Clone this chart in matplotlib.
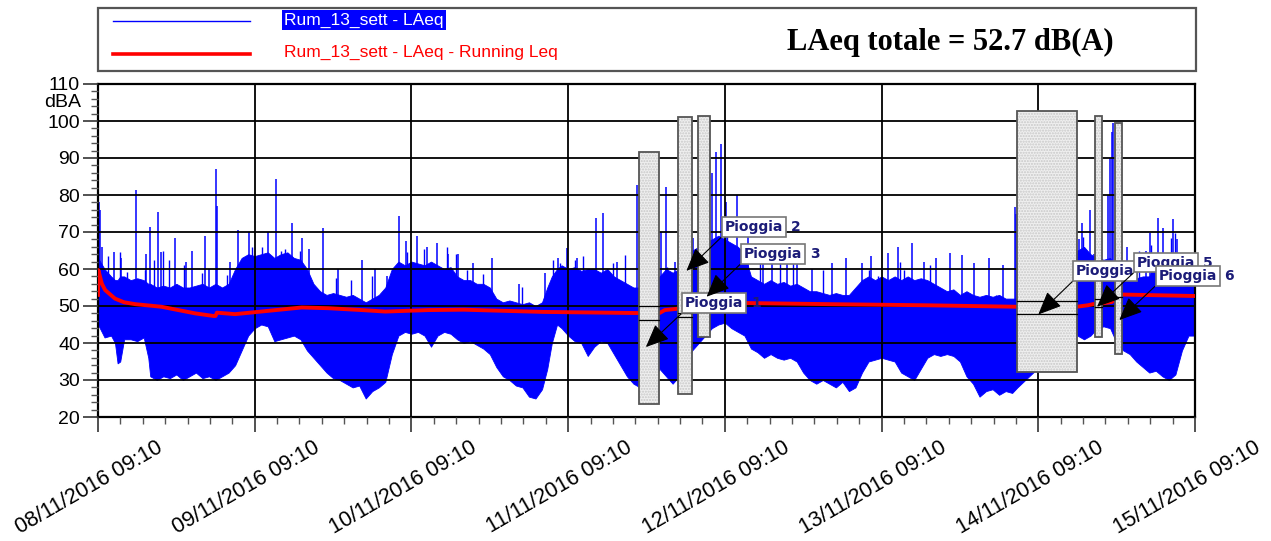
import numpy as np
import matplotlib
matplotlib.use("Agg")
import matplotlib.pyplot as plt
import matplotlib.transforms as mtransforms
from matplotlib.patches import Rectangle
from matplotlib.lines import Line2D
from matplotlib.ticker import MultipleLocator

plt.rcParams['font.family'] = ['Liberation Sans', 'DejaVu Sans']

# time axis: hours since 08/11/2016 09:10
day_labels = ["08/11/2016 09:10", "09/11/2016 09:10", "10/11/2016 09:10",
              "11/11/2016 09:10", "12/11/2016 09:10", "13/11/2016 09:10",
              "14/11/2016 09:10", "15/11/2016 09:10"]

# LAeq band (lower / upper edge of the dense trace)
env_h = [0, 1, 2, 2.6, 3, 3.4, 4, 5, 6, 7, 7.7, 8, 9, 10, 11, 12, 13, 14, 15, 16, 17, 18, 19, 20, 21, 22, 23,
         24, 25, 26, 27, 28, 29, 30, 31, 32, 33, 34, 35, 36, 37, 38, 39, 40, 41, 42, 43, 44, 45, 46, 47,
         48, 49, 50, 51, 52, 53, 54, 55, 56, 57, 58, 59, 60, 61, 62, 63, 64, 65, 66, 67, 68, 68.8, 69.5, 70.3, 71,
         72, 73, 74, 75, 76, 77, 78, 79, 80, 81, 82, 83, 85, 86, 87, 88, 89, 91, 92, 94, 95,
         96, 97, 98, 99, 100, 101, 102, 103, 104, 105, 106, 107, 108, 109, 110, 111, 112, 113, 114, 115,
         116, 117, 118, 119,
         120, 121, 122, 123, 124, 125, 126, 127, 128, 129, 130, 131, 132, 133, 134, 135, 136, 137, 138, 139,
         140, 140.8, 145,
         149.9, 150, 151, 152, 153, 154, 155, 156, 157, 158, 159, 160, 161, 162, 163, 164, 165, 166, 167, 168]
env_lo = [45, 41.5, 42, 40, 34.5, 35, 41, 41, 40.5, 41.5, 36, 31, 30, 31, 30.5, 31.5, 30, 31, 32, 30.5, 31, 30, 31, 32, 34, 38, 42,
          44, 45, 44.5, 40.5, 41, 41.5, 42, 41, 38, 36, 34, 32, 30.5, 30, 29, 28, 28.5, 25, 27, 28, 29.5, 37, 42, 43,
          42.5, 43, 42, 39, 42, 43, 42.5, 41, 40, 40.5, 39.5, 38.5, 37, 33.5, 31, 30, 28.5, 28, 25.5, 25, 27.5, 33, 40, 45, 44,
          42, 40.5, 40, 36.5, 39, 40.5, 40, 37, 34, 31, 29, 28, 30, 33, 31, 29, 31, 38, 40, 44, 45,
          45.5, 44, 43, 42, 38.5, 37.5, 36, 37, 36, 35.5, 36, 35, 32, 30, 29, 30, 29, 28, 29.5, 27,
          28, 32, 35, 35.5,
          36, 35.5, 35, 32, 31, 30, 33, 36, 37, 36.5, 37, 36.5, 35, 31, 29, 25.5, 27, 27.5, 26, 27,
          26.5, 28, 35,
          43, 42, 41, 42, 44, 44.5, 44, 40, 38, 37, 35, 33.5, 32, 32.5, 31, 30, 31.5, 38, 42, 42]
env_hi = [63, 60, 58, 57, 57, 58, 58, 57, 57.5, 57, 56, 56, 55, 55.5, 55, 56, 55, 55, 55.5, 56, 55, 56, 55, 56, 60, 63, 64,
          63.5, 64, 64.5, 63, 64, 64.5, 63, 62.5, 60, 56, 54, 53, 53.5, 53, 52.5, 53, 52, 51, 52, 53, 55, 60, 62, 61,
          62, 61.5, 61, 62, 61, 60, 60.5, 58, 57, 57, 56, 56, 55, 52, 51, 51.5, 51, 50.5, 51, 50, 51, 55, 58, 60, 61,
          60, 60.5, 59.5, 60, 60, 59, 60, 58, 57, 56, 55, 55, 56, 58, 60, 59, 60, 65, 66, 68, 69,
          68, 67, 66, 64, 58, 57, 56, 57, 56, 56.5, 55.5, 56, 55, 54, 54, 53.5, 53, 53.5, 53, 53,
          55, 57, 58, 57,
          58, 57, 58, 57, 58, 57, 57.5, 57, 56, 55, 54, 54.5, 53, 54, 53, 52.5, 53, 52.5, 53, 52,
          52, 52, 55,
          62, 65, 66, 64, 63, 62.5, 63, 60, 58, 58, 57.5, 58, 58, 62, 63, 63, 62, 60, 58, 58]

# isolated peaks above the band
spike_h = [0.1, 0.3, 0.6, 2.5, 3.5, 5.8, 7.4, 8.0, 9.2, 9.6, 11.8, 13.5, 14.4, 16.4, 17.0, 18.1, 18.3, 20.2,
           21.4, 23.1, 26.0, 27.3, 29.7, 31.3, 32.3, 34.5, 36.8, 40.4, 42.4, 44.2, 46.1, 47.2, 48.9, 50.4,
           51.9, 53.6, 55.2, 57.4, 60.3, 64.4, 68.5, 70.5, 71.8, 73.4, 76.3, 77.3, 79.5, 82.6, 86.2, 87.0,
           88.4, 91.1, 94.0, 94.7, 95.4, 96.2, 97.9, 99.5, 101.9, 103.2, 105.5, 107.0, 109.4, 112.4, 114.5,
           117.0, 118.4, 121.0, 122.5, 124.7, 126.5, 128.3, 130.5, 132.3, 134.1, 136.5, 138.6, 140.4, 140.6,
           150.2, 150.7, 151.9, 152.5, 154.6, 155.0, 155.3, 155.5, 157.6, 159.1, 160.5, 161.1, 162.4, 163.1,
           164.6, 165.3]
spike_v = [78, 76, 66, 64.5, 63, 81.3, 64, 71.4, 75.5, 64.5, 68.3, 62, 65, 68.9, 60, 86.9, 77, 62,
           70.5, 70, 70, 84.2, 72.3, 68.5, 65.5, 71, 60, 62.5, 59.9, 58, 74.3, 67.5, 68.9, 66,
           67, 64, 64, 61.5, 62.9, 56, 59, 63, 65.6, 63, 73.7, 75.1, 62, 82.7, 70, 82.1,
           62, 68.5, 86, 91.5, 93.8, 78, 80, 69, 65, 63, 65.3, 65, 60, 61.5, 63,
           61.5, 63.5, 64.2, 66, 67, 62, 63, 64.2, 63.8, 61.5, 63, 61, 76.8, 75,
           68, 72.4, 75.9, 64, 80, 90, 97, 99.4, 66, 64, 65, 69.6, 73.8, 71,
           73.5, 68]

# smaller peaks that make the ragged top of the band
peak_h = [1.5, 3.4, 4.4, 7.2, 8.6, 10.0, 10.8, 13.1, 16.0, 19.8, 23.6, 25.1, 28.1, 28.6, 30.9, 36.5,
          38.8, 41.9, 47.3, 49.9, 53.5, 54.8, 56.5, 59.0, 64.9, 69.7, 70.7, 73.0, 74.3, 78.9, 80.7,
          87.1, 92.2, 96.3, 99.4, 101.4, 104.5, 106.5, 111.1, 118.0, 119.5, 122.8, 123.5, 126.7,
          127.4, 137.6, 150.9, 159.5, 161.3, 164.4, 164.9]
peak_v = [63.5, 64.6, 59.2, 59.7, 62.4, 65, 62.4, 61, 59, 58.3, 66, 66, 65, 65.5, 65, 57.5,
          57, 58, 64.6, 65.5, 66, 64, 59.7, 58.7, 55.2, 62.4, 61.5, 62.4, 63.4, 61.5, 63.8,
          60.6, 70.5, 69.6, 63.4, 61.5, 62.4, 62.4, 59.7, 59.7, 58, 62, 59.7, 57,
          61, 53, 68.6, 65, 66.6, 68.5, 69.6]

# running Leq
leq_h = [0, 0.05, 0.3, 0.6, 1.1, 2.6, 4, 5.7, 9.7, 12, 14.9, 17.7, 18.0, 18.2, 21, 26.1, 31.2, 35.3, 40.4,
         44, 50.6, 56, 68.2, 82.5, 86, 86.8, 90, 94, 99.3, 112, 126.7, 140.7, 149.9, 151.6, 152.4, 154.2,
         155.3, 155.5, 156.8, 168]
leq_v = [53, 59.7, 58, 56, 54.3, 52, 51, 50.5, 49.8, 49, 48, 47.3, 47.3, 48.2, 47.8, 48.7, 49.6, 49.4, 48.9,
         48.5, 48.9, 49.0, 48.4, 48.1, 48.1, 48.9, 49.5, 51, 50.8, 50.5, 50.2, 49.8, 49.8, 50.2, 50.5, 50.8,
         51.1, 52.5, 53.1, 52.7]

# rain periods
rain_start = [82.8, 88.8, 91.85, 140.8, 152.75, 155.8]
rain_end = [85.9, 90.9, 93.8, 149.9, 153.8, 156.8]
rain_low = [23.4, 26.3, 41.6, 32.1, 41.5, 37.1]
rain_high = [91.5, 101.1, 101.3, 102.8, 101.4, 99.4]
rain_marks = [[50.1, 46.3], [48.1, 46.9], [], [51.4, 47.8], [52.0, 49.8], [52.3]]
rain_names = ["1", "2", "3", "4", "5", "6"]
label_pos = [(89.9, 50.75), (96.0, 71.4), (98.9, 64.1), (149.8, 59.5), (159.1, 61.7), (162.4, 58.1)]
arrow_tip = [(83.9, 38.9), (90.1, 59.5), (93.2, 52.5), (144.0, 47.7), (153.0, 49.8), (156.4, 46.2)]

fig = plt.figure(figsize=(12.71, 5.41), dpi=100)
ax = fig.add_axes([98 / 1271, 1 - 417 / 541, 1097 / 1271, 333 / 541])

ax.fill_between(env_h, env_lo, env_hi, color='#0000ff', lw=0.6, edgecolor='#0000ff', zorder=1)
ax.vlines(spike_h, 48, spike_v, color='#0000ff', lw=1.1, zorder=1.5)
ax.vlines(peak_h, 48, peak_v, color='#0000ff', lw=1.0, zorder=1.5)
ax.plot(leq_h, leq_v, color='#ff0000', lw=2.8, zorder=3)

for i in range(len(rain_start)):
    w = rain_end[i] - rain_start[i]
    hgt = rain_high[i] - rain_low[i]
    ax.add_patch(Rectangle((rain_start[i], rain_low[i]), w, hgt, facecolor='#efefef',
                           edgecolor='#c8c8c8', hatch='......', lw=0, zorder=4))
    ax.add_patch(Rectangle((rain_start[i], rain_low[i]), w, hgt, facecolor='none',
                           edgecolor='#555555', lw=1.3, zorder=4.1))
    for m in rain_marks[i]:
        ax.plot([rain_start[i], rain_end[i]], [m, m], color='black', lw=0.9, zorder=4.2)

for i in range(len(rain_names)):
    tx, ty = label_pos[i]
    ax.annotate("Pioggia", xy=arrow_tip[i], xytext=(tx, ty), ha='left', va='center',
                fontsize=10, fontweight='bold', color='#1c1c78', family='DejaVu Sans',
                bbox=dict(boxstyle='square,pad=0.2', fc='white', ec='#777777', lw=1.2),
                arrowprops=dict(arrowstyle='-|>,head_length=0.8,head_width=0.35', color='black',
                                lw=0.8, mutation_scale=18, relpos=(0, 0), shrinkA=0, shrinkB=0),
                annotation_clip=False, zorder=6 + i)
    # the number of the 4th label is covered by the 5th label box
    if rain_names[i] != "4":
        ax.text(tx + 10.1, ty, rain_names[i], ha='left', va='center', fontsize=10, fontweight='bold',
                color='#1c1c78', family='DejaVu Sans', zorder=5.5 + i, clip_on=False)

ax.set_xlim(0, 168)
ax.set_ylim(20, 110)
ax.xaxis.set_major_locator(MultipleLocator(24))
ax.xaxis.set_minor_locator(MultipleLocator(24 / 7))
ax.yaxis.set_major_locator(MultipleLocator(10))
ax.yaxis.set_minor_locator(MultipleLocator(2))
ax.set_xticks(np.arange(0, 169, 24))
ax.set_xticklabels(day_labels, rotation=30, ha='center', fontsize=15.5)
ax.tick_params(axis='y', labelsize=14, pad=2)
ax.tick_params(which='major', direction='out', length=11, width=1.2, color='#333333')
ax.tick_params(which='minor', direction='out', length=5, width=1.0, color='#555555')
offset = mtransforms.ScaledTranslation(-6 / 72, 0, fig.dpi_scale_trans)
for lab in ax.get_xticklabels():
    lab.set_transform(lab.get_transform() + offset)

ax.grid(True, which='major', color='black', lw=1.3)
ax.set_axisbelow(False)
for s in ax.spines.values():
    s.set_linewidth(1.6)

ax.text(-0.015, 105.1, "dBA", ha='right', va='center', fontsize=14,
        transform=mtransforms.blended_transform_factory(ax.transAxes, ax.transData))

# legend / header box
fig.add_artist(Rectangle((98 / 1271, 1 - 71 / 541), 1098 / 1271, 63 / 541, transform=fig.transFigure,
                         facecolor='white', edgecolor='#555555', lw=1.6))
fig.add_artist(Line2D([113 / 1271, 250 / 1271], [1 - 21 / 541] * 2, color='#0000ff', lw=1.0))
fig.add_artist(Line2D([113 / 1271, 250 / 1271], [1 - 54 / 541] * 2, color='#ff0000', lw=2.6))
fig.text(284 / 1271, 1 - 20 / 541, "Rum_13_sett - LAeq", color='white', fontsize=12.5, va='center',
         bbox=dict(facecolor='#0000ff', edgecolor='none', pad=1.5))
fig.text(284 / 1271, 1 - 52 / 541, "Rum_13_sett - LAeq - Running Leq", color='#ff0000', fontsize=12.5,
         va='center')
fig.text(950 / 1271, 1 - 42 / 541, "LAeq totale = 52.7 dB(A)", family='Liberation Serif',
         fontweight='bold', fontsize=22, ha='center', va='center')

fig.savefig("out.png", dpi=100)
